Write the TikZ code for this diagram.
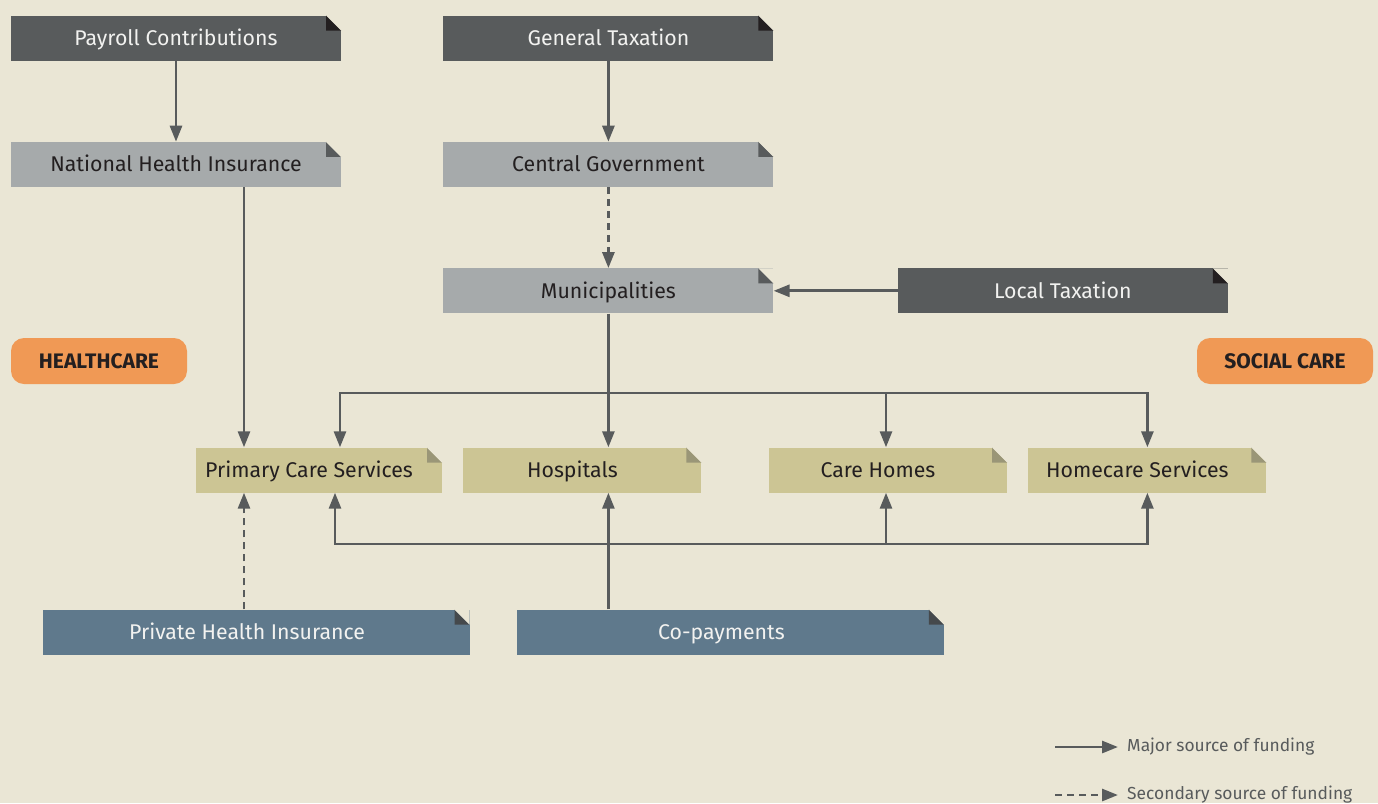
\documentclass[tikz,border=0pt]{standalone}
\usepackage{fontspec}
\setmainfont{Fira Sans}
\usetikzlibrary{arrows.meta,positioning}

\definecolor{bgcol}{HTML}{EAE6D5}
\definecolor{darkfill}{HTML}{585B5C}
\definecolor{darkfold}{HTML}{231F20}
\definecolor{greyfill}{HTML}{A6AAAB}
\definecolor{greyfold}{HTML}{585B5C}
\definecolor{olivefill}{HTML}{CCC594}
\definecolor{olivefold}{HTML}{9A9677}
\definecolor{bluefill}{HTML}{5F798C}
\definecolor{bluefold}{HTML}{45494C}
\definecolor{pillfill}{HTML}{F09955}
\definecolor{linecol}{HTML}{585B5C}
\definecolor{inkdark}{HTML}{231F20}
\definecolor{inklight}{HTML}{F2F2F0}

\begin{document}
\begin{tikzpicture}[x=1pt,y=-1pt,
    fold/.style={path picture={
        \fill[#1] ([xshift=-15pt]path picture bounding box.north east) -- ++(0pt,-15pt) -- ++(15pt,0pt) -- cycle;
        \fill[bgcol] ([xshift=-15pt]path picture bounding box.north east) -- (path picture bounding box.north east) -- ++(0pt,-15pt) -- cycle;}},
    box/.style={inner sep=0pt,minimum height=45pt,text height=19pt,text depth=4pt,font=\fontsize{21.3}{25}\selectfont},
    darkbox/.style={box,fill=darkfill,fold=darkfold,text=inklight,minimum width=330pt},
    greybox/.style={box,fill=greyfill,fold=greyfold,text=inkdark,minimum width=330pt},
    olivebox/.style={box,fill=olivefill,fold=olivefold,text=inkdark,minimum width=238pt,execute at end node={\hspace*{20pt}}},
    bluebox/.style={box,fill=bluefill,fold=bluefold,text=inklight,minimum width=427pt,execute at end node={\hspace*{18pt}}},
    pillbox/.style={fill=pillfill,rounded corners=13pt,minimum width=176pt,minimum height=46pt,inner sep=0pt,text height=19pt,text depth=4pt,text=inkdark,font=\fontsize{21}{25}\selectfont\bfseries},
    legtext/.style={inner sep=0pt,anchor=west,text=linecol,font=\fontsize{17.4}{20}\selectfont},
    major/.style={draw=linecol,line width=2.8pt,-{Triangle[length=16pt,width=12pt]}},
    minor/.style={major,dash pattern=on 7pt off 5pt}]

    \fill[bgcol] (0,0) rectangle (1378,803);

    \node[darkbox] (payroll) at (176,38) {Payroll Contributions};
    \node[darkbox] (gentax) [right=102pt of payroll] {General Taxation};
    \node[greybox] (nhi) [below=81pt of payroll] {National Health Insurance};
    \node[greybox] (centgov) [below=81pt of gentax] {Central Government};
    \node[greybox] (munic) [below=81pt of centgov] {Municipalities};
    \node[darkbox] (localtax) [right=124pt of munic] {Local Taxation};

    \node[pillbox] (health) at (99,361) {HEALTHCARE};
    \node[pillbox] (social) at (1285,361) {SOCIAL CARE};

    \node[olivebox,minimum width=246pt] (primary) at (319,470) {Primary Care Services};
    \node[olivebox] (hosp) [right=21pt of primary] {Hospitals};
    \node[olivebox] (carehome) at (888,470) {Care Homes};
    \node[olivebox] (homecare) [right=21pt of carehome] {Homecare Services};

    \node[bluebox] (privins) at (256,632) {Private Health Insurance};
    \node[bluebox] (copay) [right=47pt of privins] {Co-payments};

    \draw[major] (payroll) -- (nhi);
    \draw[major] (gentax) -- (centgov);
    \draw[minor] (centgov) -- (munic);
    \draw[major] (localtax) -- (munic);
    \draw[major] ([xshift=68pt]nhi.south) -- ([xshift=68pt]nhi.south |- primary.north);
    \draw[minor] ([xshift=-12pt]privins.north) -- ([xshift=-12pt]privins.north |- primary.south);

    \coordinate (topbus) at (munic.south |- 0,393);
    \draw[major] (munic.south) -- (munic.south |- hosp.north);
    \draw[major] (topbus) -| ([xshift=21pt]primary.north);
    \draw[major] (topbus) -| ([xshift=-2pt]carehome.north);
    \draw[major] (topbus) -| (homecare.north);

    \coordinate (botbus) at (munic.south |- 0,544);
    \draw[major] ([xshift=-122pt]copay.north) -- ([xshift=-122pt]copay.north |- hosp.south);
    \draw[major] (botbus) -| ([xshift=16pt]primary.south);
    \draw[major] (botbus) -| ([xshift=-2pt]carehome.south);
    \draw[major] (botbus) -| (homecare.south);

    \node[legtext] (majlab) at (1127,747) {Major source of funding};
    \node[legtext] (minlab) at (1127,795) {Secondary source of funding};
    \coordinate (majstart) at (1055,747);
    \coordinate (minstart) at (1055,795);
    \draw[major] (majstart) -- ([xshift=-9pt]majlab.west);
    \draw[minor] (minstart) -- ([xshift=-9pt]minlab.west);
\end{tikzpicture}
\end{document}
